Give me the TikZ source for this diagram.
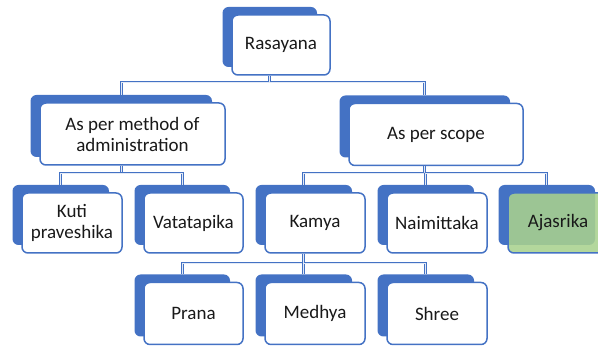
\documentclass[tikz,border=0pt]{standalone}
\usepackage{fontspec}
\setmainfont{Carlito}
\definecolor{accent}{HTML}{4472C4}
\definecolor{leaf}{HTML}{A9D18E}
\tikzset{
 frontbox/.style={draw=accent, line width=1.5pt, rounded corners=6pt, fill=white, align=center, inner sep=2pt, font=\fontsize{19}{21}\selectfont, text=black!90},
 backbox/.style={fill=accent, rounded corners=6pt, inner sep=0pt},
 link/.style={draw=accent, line width=1pt, double=accent!15!white, double distance=0.9pt},
 greenbox/.style={fill=leaf, fill opacity=0.88, text opacity=1},
}
\newcommand\tbox[7][]{%
 \node[backbox, minimum width={#5pt-3.5pt}, minimum height={#6pt}] (#2b) at ({#3-11.25},{#4-8}) {};
 \node[frontbox, minimum width={#5pt}, minimum height={#6pt}, #1] (#2) at (#3,#4) {#7};
}
\begin{document}
\begin{tikzpicture}[x=1pt,y=-1pt]
\useasboundingbox (0,0) rectangle (598,347);
\clip (0,0) rectangle (598,347);
\coordinate (bus1) at (0,82);
\coordinate (bus2) at (0,173);
\coordinate (bus3) at (0,263);
\tbox{ras}{281}{45}{98}{60}{Rasayana}
\tbox{meth}{132.5}{134}{185}{62}{As per method of\\administration}
\tbox{scope}{436}{134.5}{174}{62}{As per scope}
\tbox{kuti}{72}{223}{100}{60}{Kuti\\praveshika}
\tbox{vata}{193.5}{223}{99}{60}{Vatatapika}
\tbox{kamya}{315}{223}{100}{60}{Kamya}
\tbox{naim}{437}{223}{100}{60}{Naimittaka}
\tbox[greenbox]{ajas}{558}{223}{100}{60}{Ajasrika}
\tbox{prana}{193.5}{313.5}{99}{62}{Prana}
\tbox{medhya}{315}{313.5}{100}{62}{Medhya}
\tbox{shree}{437}{313.5}{100}{62}{Shree}
\draw[link] (rasb |- ras.south) -- (rasb |- bus1) -| (methb.north);
\draw[link] (rasb |- bus1) -| (scopeb.north);
\draw[link] (methb |- meth.south) -- (methb |- bus2) -| (kutib.north);
\draw[link] (methb |- bus2) -| (vatab.north);
\draw[link] (scopeb |- scope.south) -- (scopeb |- bus2) -| (kamyab.north);
\draw[link] (scopeb |- bus2) -| (naimb.north);
\draw[link] (scopeb |- bus2) -| (ajasb.north);
\draw[link] (kamyab |- kamya.south) -- (kamyab |- bus3) -| (pranab.north);
\draw[link] (kamyab |- bus3) -| (medhyab.north);
\draw[link] (kamyab |- bus3) -| (shreeb.north);
\end{tikzpicture}
\end{document}
